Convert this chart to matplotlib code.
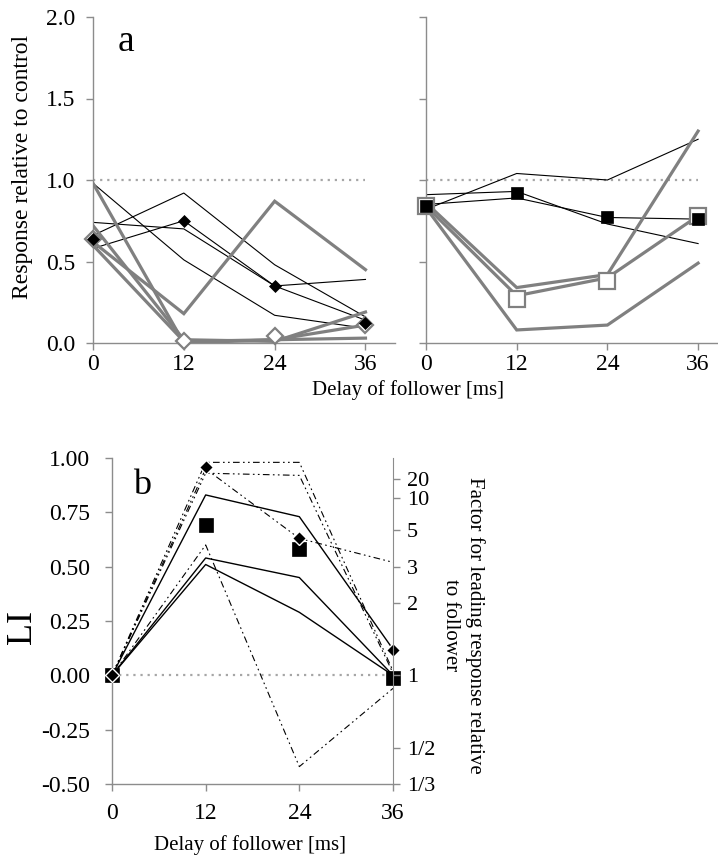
import matplotlib
matplotlib.use("Agg")
import matplotlib.pyplot as plt
import numpy as np

plt.rcParams['font.family'] = ['Liberation Serif', 'DejaVu Serif']

# ---------------- data ----------------
delays = [0, 12, 24, 36]

# panel a, left (diamonds)
a_left_black = [
    [0.66, 0.92, 0.48, 0.16],
    [0.98, 0.51, 0.17, 0.09],
    [0.74, 0.70, 0.35, 0.39],
    [0.58, 0.75, 0.35, 0.14],
]
a_left_gray = [
    [0.98, 0.00, 0.02, 0.03],
    [0.62, 0.18, 0.87, 0.45],
    [0.72, 0.02, 0.01, 0.19],
    [0.60, 0.01, 0.02, 0.11],
]
a_left_mean_black = [0.64, 0.75, 0.35, 0.12]
a_left_mean_gray = [0.64, 0.01, 0.04, 0.11]

# panel a, right (squares)
a_right_black = [
    [0.82, 1.04, 1.00, 1.25],
    [0.91, 0.93, 0.73, 0.61],
    [0.85, 0.89, 0.77, 0.76],
]
a_right_gray = [
    [0.83, 0.08, 0.11, 0.49],
    [0.86, 0.34, 0.42, 1.30],
    [0.84, 0.29, 0.40, 0.78],
]
a_right_mean_black = [0.84, 0.92, 0.77, 0.76]
a_right_mean_gray = [0.84, 0.27, 0.38, 0.78]

a_yticks = [0.0, 0.5, 1.0, 1.5, 2.0]
a_yticklabels = ["0.0", "0.5", "1.0", "1.5", "2.0"]

# panel b (LI)
b_solid = [
    [0.0, 0.83, 0.73, 0.12],
    [0.0, 0.54, 0.45, 0.00],
    [0.0, 0.51, 0.29, 0.00],
]
b_dashdot = [
    [0.0, 0.98, 0.98, 0.02],
    [0.0, 0.93, 0.92, 0.01],
    [0.0, 0.95, 0.63, 0.52],
    [0.0, 0.60, -0.42, -0.06],
]
b_diamonds = [0.0, 0.96, 0.63, 0.115]
b_squares = [0.0, 0.69, 0.58, -0.01]

b_yticks = [-0.50, -0.25, 0.0, 0.25, 0.50, 0.75, 1.00]
b_yticklabels = ["-0.50", "-0.25", "0.00", "0.25", "0.50", "0.75", "1.00"]
factor_ticks = [20, 10, 5, 3, 2, 1, 1/2, 1/3]
factor_labels = ["20", "10", "5", "3", "2", "1", "1/2", "1/3"]

# ---------------- style ----------------
GRAY = '#808080'
SPINE = '#8c8c8c'
DOT = '#a6a6a6'
FS = 17
DDASH = (0, (6, 3, 1.5, 3, 1.5, 3))

fig = plt.figure(figsize=(7.18, 8.61), dpi=100)


def style_axes(ax, xpad, ypad):
    for s in ['top', 'right']:
        ax.spines[s].set_visible(False)
    for s in ['left', 'bottom']:
        ax.spines[s].set_color(SPINE)
        ax.spines[s].set_linewidth(1.0)
    ax.tick_params(axis='both', which='both', direction='out', length=5,
                   width=1.0, color=SPINE, labelsize=FS, labelcolor='black')
    ax.tick_params(axis='x', pad=xpad)
    ax.tick_params(axis='y', pad=ypad)


H = 861.0
W = 718.0

ax_al = fig.add_axes([93 / W, 1 - 343 / H, (395 - 93) / W, (343 - 17) / H])
ax_ar = fig.add_axes([426 / W, 1 - 343 / H, (717 - 426) / W, (343 - 17) / H])
ax_b = fig.add_axes([112 / W, 1 - 784 / H, (393 - 112) / W, (784 - 458) / H])

# --- panel a left ---
ax = ax_al
ax.plot([0, 36], [1, 1], linestyle=(0, (1, 2.2)), color=DOT, lw=1.6, zorder=1)
for ys in a_left_black:
    ax.plot(delays, ys, color='black', lw=0.8, zorder=2)
for ys in a_left_gray:
    ax.plot(delays, ys, color=GRAY, lw=2.3, zorder=3, solid_joinstyle='miter')
ax.plot(delays, a_left_mean_gray, linestyle='none', marker='D', ms=8.5,
        mfc='white', mec=GRAY, mew=1.6, zorder=5, clip_on=False)
ax.plot(delays, a_left_mean_black, linestyle='none', marker='D', ms=6.3,
        mfc='black', mec='black', mew=0.5, zorder=6, clip_on=False)
ax.set_xlim(0, 39.9)
ax.set_ylim(0, 2.0)
ax.set_xticks(delays)
ax.set_xticklabels([str(d) for d in delays])
ax.set_yticks(a_yticks)
ax.set_yticklabels(a_yticklabels)
style_axes(ax, 3, 8)
ax.text(0.08, 0.925, 'a', transform=ax.transAxes, fontsize=27, va='center', ha='left')

# --- panel a right ---
ax = ax_ar
ax.plot([0, 36], [1, 1], linestyle=(0, (1, 2.2)), color=DOT, lw=1.6, zorder=1)
for ys in a_right_black:
    ax.plot(delays, ys, color='black', lw=0.8, zorder=2)
for ys in a_right_gray:
    ax.plot(delays, ys, color=GRAY, lw=2.3, zorder=3, solid_joinstyle='miter')
ax.plot(delays, a_right_mean_gray, linestyle='none', marker='s', ms=11,
        mfc='white', mec=GRAY, mew=1.6, zorder=5, clip_on=False)
ax.plot(delays, a_right_mean_black, linestyle='none', marker='s', ms=8.5,
        mfc='black', mec='black', mew=0.5, zorder=6, clip_on=False)
ax.set_xlim(0, 38.5)
ax.set_ylim(0, 2.0)
ax.set_xticks(delays)
ax.set_xticklabels([str(d) for d in delays])
ax.set_yticks(a_yticks)
ax.set_yticklabels([])
style_axes(ax, 3, 8)

fig.text(23 / W, 1 - 167 / H, 'Response relative to control', rotation=90,
         fontsize=17, ha='center', va='center')
fig.text(408 / W, 1 - 390 / H, 'Delay of follower [ms]', fontsize=15,
         ha='center', va='center')

# --- panel b ---
ax = ax_b
ax.plot([0, 36], [0, 0], linestyle=(0, (1, 2.2)), color=DOT, lw=1.6, zorder=1)
for ys in b_solid:
    ax.plot(delays, ys, color='black', lw=1.0, zorder=2)
for ys in b_dashdot:
    ax.plot(delays, ys, color='black', lw=0.8, linestyle=DDASH, zorder=2)
ax.plot(delays, b_squares, linestyle='none', marker='s', ms=10.5,
        mfc='black', mec='black', mew=0.5, zorder=5, clip_on=False)
ax.plot(delays, b_diamonds, linestyle='none', marker='D', ms=7,
        mfc='black', mec='white', mew=1.0, zorder=6, clip_on=False)
ax.set_xlim(0, 36)
ax.set_ylim(-0.5, 1.0)
ax.set_xticks(delays)
ax.set_xticklabels([str(d) for d in delays])
ax.set_yticks(b_yticks)
ax.set_yticklabels(b_yticklabels)
style_axes(ax, 9, 11)
ax.text(0.075, 0.915, 'b', transform=ax.transAxes, fontsize=26, va='center', ha='left')
fig.text(250 / W, 1 - 845 / H, 'Delay of follower [ms]', fontsize=15,
         ha='center', va='center')
fig.text(23 / W, 1 - 627 / H, 'LI', rotation=90, fontsize=26,
         ha='center', va='center')

ax2 = ax.twinx()
ax2.set_ylim(-0.5, 1.0)
ax2.set_yticks([(f - 1) / (f + 1) for f in factor_ticks])
ax2.set_yticklabels(factor_labels)
for s in ['top', 'left', 'bottom']:
    ax2.spines[s].set_visible(False)
ax2.spines['right'].set_color(SPINE)
ax2.tick_params(axis='y', direction='out', length=5, width=1.0, color=SPINE,
                labelsize=16, pad=5)
fig.text(475 / W, 1 - 625 / H, 'Factor for leading response relative',
         rotation=270, fontsize=15, ha='center', va='center')
fig.text(450 / W, 1 - 625 / H, 'to follower',
         rotation=270, fontsize=15, ha='center', va='center')

fig.savefig('out.png', dpi=100)
